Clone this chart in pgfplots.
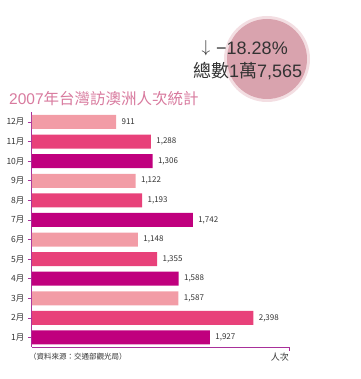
\documentclass[border=0pt]{standalone}
\usepackage{pgfplots}
\pgfplotsset{compat=1.18}
\usepackage{fontspec}
\setmainfont{Noto Sans CJK TC}
\newfontfamily\latin{Liberation Sans}
\definecolor{cDark}{HTML}{C0007E}
\definecolor{cMid}{HTML}{E8417A}
\definecolor{cLight}{HTML}{F29CA6}
\definecolor{axiscol}{HTML}{A8309A}
\definecolor{titlecol}{HTML}{D87A9E}
\definecolor{circfill}{HTML}{D9A3AE}
\definecolor{circhalo}{HTML}{F3DEE2}
\definecolor{txt}{HTML}{333333}
\begin{document}
\begin{tikzpicture}[x=1pt,y=1pt]
\path[use as bounding box] (0,0) rectangle (360,379);
% circle badge
\fill[circhalo] (267,320) circle (43);
\fill[circfill] (267,320) circle (40);
\node[anchor=west, text=txt, font=\fontsize{18}{20}\selectfont] at (198,331) {\latin$\downarrow$};
\node[anchor=west, text=txt, font=\fontsize{18}{20}\selectfont\latin, inner sep=0pt] at (216,331) {−18.28\%};
\node[anchor=west, text=txt, font=\fontsize{18}{20}\selectfont, inner sep=0pt] at (193,308) {總數{\latin 1}萬{\latin 7,565}};
% title
\node[anchor=west, text=titlecol, font=\fontsize{15.5}{17}\selectfont, inner sep=0pt] at (9,280) {{\latin 2007}年台灣訪澳洲人次統計};
\begin{axis}[
  at={(32pt,32pt)}, anchor=south west,
  scale only axis, width=257pt, height=235pt,
  xmin=0, xmax=2785, ymin=0.515, ymax=12.51,
  axis lines*=left,
  axis line style={draw=axiscol, line width=1pt},
  xtick=\empty,
  ytick={1,...,12},
  yticklabels={1月,2月,3月,4月,5月,6月,7月,8月,9月,10月,11月,12月},
  yticklabel style={text=txt, font=\fontsize{8.5}{10}\selectfont},
  tick align=inside,
  major tick length=4pt,
  tick style={draw=axiscol, line width=0.6pt},
  xbar, bar width=14pt,
  clip=false,
  nodes near coords,
  /pgf/number format/assume math mode=true,
  /pgf/number format/1000 sep={,},
  every node near coord/.append style={anchor=west, xshift=2pt, text=txt, font=\fontsize{8}{9}\selectfont},
]
\addplot[fill=cDark, draw=none, bar shift=0pt] coordinates {(1927,1) (1588,4) (1742,7) (1306,10)};
\addplot[fill=cMid, draw=none, bar shift=0pt] coordinates {(2398,2) (1355,5) (1193,8) (1288,11)};
\addplot[fill=cLight, draw=none, bar shift=0pt] coordinates {(1587,3) (1148,6) (1122,9) (911,12)};
\draw[axiscol, line width=1pt] (rel axis cs:1,0) -- ++(0,6pt);
\end{axis}
\node[anchor=west, text=txt, font=\fontsize{7.5}{9}\selectfont, inner sep=0pt] at (29,22) {（資料來源：交通部觀光局）};
\node[anchor=east, text=txt, font=\fontsize{9}{10}\selectfont, inner sep=0pt] at (289,22) {人次};
\end{tikzpicture}
\end{document}
